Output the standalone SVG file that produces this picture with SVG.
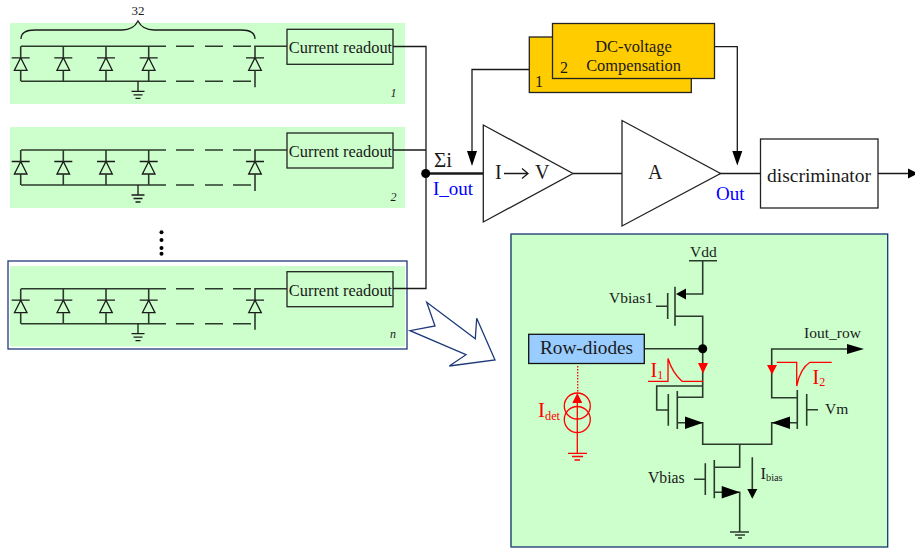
<svg xmlns="http://www.w3.org/2000/svg" width="915" height="548" viewBox="0 0 915 548">
<style>
text{font-family:"Liberation Serif","Times New Roman",serif;fill:#1a1a1a}
.w{fill:none;stroke:#1a1a1a;stroke-width:1.3}
.t{fill:none;stroke:#2b3a2b;stroke-width:1.6}
.b{fill:#000;stroke:none}
.r{fill:none;stroke:#f00;stroke-width:1.3}
.rf{fill:#f00;stroke:none}
.rt{fill:#f00}
.bl{fill:#00f}
.green{fill:#ccffcc}
</style>
<defs>
<g id="diode"><path class="w" d="M-9 11.500H9M-6.300 24L0 11.500L6.300 24Z"/><path class="t" d="M0 0V11.500M0 24V35"/></g>
<g id="gnd"><path class="w" d="M0 0V10M-6.500 10H6.500M-4.500 13.500H4.500M-2.500 17H2.500"/></g>
<g id="row"><path class="t" d="M21 0H166M21 35H166"/><path class="t" d="M176 0H194M205 0H223M233 0H251M176 35H194M205 35H223M233 35H251"/>
<use href="#diode" x="20.700"/><use href="#diode" x="63.300"/><use href="#diode" x="106"/><use href="#diode" x="148.700"/>
<path class="w" d="M246 11.500H264M248.700 24L255 11.500L261.300 24Z"/><path class="t" d="M255 11.500V0H287M255 24V41"/>
<use href="#gnd" x="138" y="35"/>
<rect x="287" y="-17" width="106" height="35" fill="#ccffcc" stroke="#222" stroke-width="1.300"/>
<text x="340.500" y="7" font-size="16.400" text-anchor="middle">Current readout</text></g>
</defs>
<g id="row1"><rect class="green" x="10" y="23" width="395" height="81"/><use href="#row" y="46.300"/>
<path class="w" d="M21 39C21 33 26 30 35 30H122C130 30 135 27 138 21C141 27 146 30 154 30H241C250 30 255 33 255 39"/>
<text x="138" y="15" font-size="13" text-anchor="middle">32</text>
<text x="390.500" y="97" font-size="12" font-style="italic">1</text></g>
<g id="row2"><rect class="green" x="10" y="127" width="395" height="81"/><use href="#row" y="150"/>
<text x="390.500" y="201" font-size="12" font-style="italic">2</text></g>
<g id="dots" fill="#000"><circle cx="161.500" cy="232.300" r="2"/><circle cx="161.500" cy="240" r="2"/><circle cx="161.500" cy="248" r="2"/><circle cx="161.500" cy="253.700" r="2"/></g>
<g id="rown"><rect x="8" y="261" width="399" height="88" fill="#fff" stroke="#1f3a7a" stroke-width="1.300"/><rect class="green" x="10" y="266" width="395" height="80.500"/><use href="#row" y="288.700"/>
<text x="390" y="338" font-size="12" font-style="italic">n</text></g>
<g id="connectors">
<path class="w" d="M393 46.500H426V288.500H393M393 150H426"/>
<path fill="none" stroke="#1a1a1a" stroke-width="2.600" d="M426 173.500H483"/>
<circle class="b" cx="425.700" cy="173.500" r="4.500"/>
<path class="w" d="M529 69.500H472V152"/><path class="b" d="M467 151H477L472 166Z"/>
<path class="w" d="M714 46.700H737.300V152"/><path class="b" d="M732.300 151H742.300L737.300 165.500Z"/>
<path class="w" d="M573 173.500H622M720 173.500H760M878 173.500H909"/><path class="b" d="M908 168.500L918 173.500L908 178.500Z"/>
</g>
<g id="comp1"><rect x="529.300" y="37" width="162" height="55.500" fill="#fc0" stroke="#222" stroke-width="1.300"/><text x="535" y="87" font-size="16">1</text></g>
<g id="comp2"><rect x="552.500" y="23.500" width="162" height="55" fill="#fc0" stroke="#222" stroke-width="1.300"/><text x="560" y="73" font-size="16">2</text>
<text x="633.500" y="52" font-size="16.400" text-anchor="middle">DC-voltage</text><text x="633.500" y="71" font-size="16.400" text-anchor="middle">Compensation</text></g>
<g id="amp-iv"><path fill="#fff" stroke="#222" stroke-width="1.300" d="M483.300 125V222L573 173.500Z"/>
<text x="495" y="179" font-size="20">I</text><path class="w" d="M504 173.500H528M522 168.500L528 173.500L522 178.500"/><text x="535" y="179" font-size="20">V</text></g>
<g id="amp-a"><path fill="#fff" stroke="#222" stroke-width="1.300" d="M622 120.500V226L720.500 173.500Z"/><text x="648" y="179" font-size="20">A</text></g>
<g id="disc"><rect x="760.500" y="139" width="117.500" height="69" fill="#fff" stroke="#222" stroke-width="1.300"/><text x="819" y="182" font-size="19.500" text-anchor="middle">discriminator</text></g>
<text x="434" y="167" font-size="21">Σi</text>
<text x="433" y="195" font-size="19" class="bl">I_out</text>
<text x="716" y="200" font-size="19" class="bl">Out</text>
<path id="big-arrow" fill="#fff" stroke="#1f3a7a" stroke-width="1.300" d="M426.700 302.300L435 326L410 330.700L466 354.700L449.300 366L495 360L476.700 318.300L475.300 338.700Z"/>
<g id="panel"><rect x="511" y="234" width="376.700" height="313" fill="#ccffcc" stroke="#14386e" stroke-width="1.300"/>
<path fill="none" stroke="#4f7a90" stroke-width="2" d="M511 234.500V546.500"/>
<path class="t" d="M689 260.700H717M702.700 260.700V294H686M675 286.700V325.700M667.700 293V319M656 306.300H667.700M675 316.300H702.700V386H656.700V410H668M668.300 394V425.700M677.300 391V429M677.300 397.300H702.700V386M677.300 422.700H702.700V444.300H771.700V422.700H797M797.300 390V429M806.700 394V425.700M806.700 409.700H818M797.300 397.700H771.700V349H850M645 348.700H702.700M739.700 444.300V467.300H714.300M714.300 460V498.300M705.300 463.300V495M694 479.300H705.300M714.300 492.300H739.700V532M752.300 457.300V490M730 532H749M735 535H745M738 538H742"/>
<path class="b" d="M676 294L686 288.500V299.500ZM685 416.500L703 422.700L685 429ZM771.700 422.700L790 416.500V429ZM721.700 486L740 492.300L721.700 498.500ZM847 344L864 349L847 354ZM747.300 489H757.300L752.300 498.700Z"/>
<circle class="b" cx="702.700" cy="348.700" r="4.500"/>
<rect x="528.700" y="334.300" width="115.600" height="29.200" fill="#99ccff" stroke="#111" stroke-width="1.300"/>
<text x="586.500" y="354" font-size="19.300" text-anchor="middle">Row-diodes</text>
<text x="690" y="257" font-size="15.500">Vdd</text>
<text x="609" y="303" font-size="15.500">Vbias1</text>
<text x="804" y="338" font-size="15.500">Iout_row</text>
<text x="825" y="414" font-size="15.500">Vm</text>
<text x="648" y="483" font-size="15.700">Vbias</text>
<text x="760.500" y="478.500" font-size="16.500">I<tspan font-size="10.300" dy="2">bias</tspan></text>
<path class="r" d="M648 381.300H668V358.500C671 368 676 376 682 381.300H703M776.700 362.300H796.700V386C799 375 804 366 810 362.300H831.700"/>
<path class="r" stroke-dasharray="1.500 1.500" d="M577.700 366V392"/>
<path class="rf" d="M698 363H708L703 373.500ZM767 365H777L772 374.500ZM572.300 403L577.300 393L582.300 403Z"/>
<text x="650.500" y="377" font-size="20" class="rt">I<tspan font-size="12" dy="2">1</tspan></text>
<text x="812.500" y="384" font-size="20" class="rt">I<tspan font-size="12" dy="2">2</tspan></text>
<text x="538" y="417" font-size="21" class="rt">I<tspan font-size="12.300" dy="3">det</tspan></text>
<circle class="r" cx="577.300" cy="406" r="13"/><circle class="r" cx="577.300" cy="419.500" r="13"/>
<path class="r" d="M577.300 400V453.300M568 453.300H587M572 456.500H583M574.500 460H580"/>
</g>
</svg>
